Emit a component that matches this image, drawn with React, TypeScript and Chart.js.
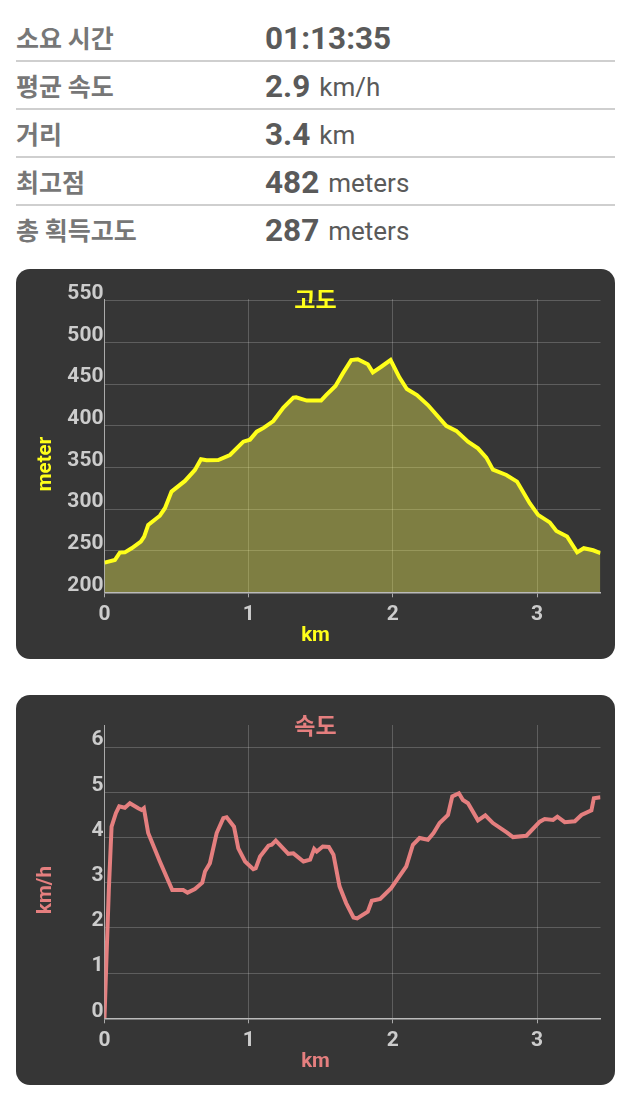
import { useEffect, useRef } from "react"
import { Chart, registerables } from "chart.js"

Chart.register(...registerables)

const altitudeKm = [
  0, 0.072, 0.106, 0.141, 0.188, 0.252, 0.275, 0.303, 0.384, 0.419, 0.465, 0.558, 0.627, 0.669, 0.708, 0.789, 0.87,
  0.963, 1.009, 1.056, 1.106, 1.171, 1.241, 1.31, 1.329, 1.403, 1.502, 1.537, 1.602, 1.653, 1.711, 1.757, 1.826,
  1.861, 1.919, 1.984, 2.046, 2.097, 2.167, 2.243, 2.37, 2.44, 2.521, 2.59, 2.648, 2.694, 2.787, 2.861, 2.949, 3.007,
  3.088, 3.134, 3.208, 3.278, 3.324, 3.389, 3.44,
]
const altitudeMeters = [
  235.6, 238.8, 247.7, 248, 252.9, 260.9, 266.9, 280.9, 292, 301, 321, 333.8, 347, 359.8, 358.6, 359, 365, 381, 383.4,
  393, 397.8, 405.8, 421.9, 433.9, 434.3, 430.3, 430.3, 437, 448, 463, 479, 480, 474, 464.3, 471, 479, 458, 444.3, 437,
  425, 400, 394, 381, 373, 361.8, 347.4, 341, 333, 307, 293, 284, 273.7, 267, 248, 253, 250.5, 247,
]
const altitudeTicks = [200, 250, 300, 350, 400, 450, 500, 550]

const speedKm = [
  0, 0.014, 0.03, 0.049, 0.079, 0.102, 0.141, 0.176, 0.234, 0.257, 0.273, 0.303, 0.384, 0.47, 0.546, 0.576, 0.627,
  0.678, 0.697, 0.731, 0.778, 0.824, 0.847, 0.898, 0.928, 0.975, 1.032, 1.049, 1.079, 1.137, 1.16, 1.188, 1.275, 1.31,
  1.38, 1.426, 1.454, 1.472, 1.514, 1.556, 1.588, 1.63, 1.676, 1.727, 1.752, 1.826, 1.854, 1.912, 1.988, 2.093, 2.139,
  2.185, 2.243, 2.282, 2.324, 2.382, 2.412, 2.458, 2.486, 2.521, 2.59, 2.641, 2.694, 2.792, 2.833, 2.926, 3.019, 3.053,
  3.111, 3.141, 3.192, 3.262, 3.308, 3.377, 3.394, 3.44,
]
const speedKmh = [
  0, 1.37, 2.84, 4.24, 4.54, 4.69, 4.66, 4.76, 4.65, 4.61, 4.65, 4.1, 3.47, 2.84, 2.84, 2.78, 2.86, 3, 3.25, 3.43, 4.1,
  4.43, 4.45, 4.24, 3.76, 3.47, 3.3, 3.32, 3.58, 3.82, 3.84, 3.93, 3.64, 3.65, 3.47, 3.51, 3.75, 3.69, 3.8, 3.79, 3.62,
  2.92, 2.55, 2.23, 2.21, 2.36, 2.6, 2.64, 2.88, 3.36, 3.84, 3.99, 3.95, 4.1, 4.32, 4.5, 4.91, 4.98, 4.83, 4.76, 4.38,
  4.49, 4.32, 4.11, 4.01, 4.04, 4.35, 4.41, 4.39, 4.46, 4.34, 4.36, 4.5, 4.6, 4.87, 4.89,
]
const speedTicks = [0, 1, 2, 3, 4, 5, 6]
const kmTicks = [0, 1, 2, 3]

const summaryRows = [
  { label: "소요 시간", value: "01:13:35", unit: "" },
  { label: "평균 속도", value: "2.9", unit: "km/h" },
  { label: "거리", value: "3.4", unit: "km" },
  { label: "최고점", value: "482", unit: "meters" },
  { label: "총 획득고도", value: "287", unit: "meters" },
]

const LATIN = "Roboto, 'Noto Sans CJK KR', sans-serif"
const KOREAN = "'Noto Sans CJK KR', Roboto, sans-serif"

// axis names sit in the middle of the card, not the middle of the plot
const cardAxisNames = {
  id: "cardAxisNames",
  afterDraw(chart: any) {
    const { ctx, width, height } = chart
    const o = chart.options.plugins.cardAxisNames
    ctx.save()
    ctx.fillStyle = o.color
    ctx.font = `700 20.5px ${LATIN}`
    ctx.textAlign = "center"
    ctx.textBaseline = "middle"
    ctx.fillText(o.x, width / 2, 367)
    ctx.translate(29.5, height / 2)
    ctx.rotate(-Math.PI / 2)
    ctx.fillText(o.y, 0, 0)
    ctx.restore()
  },
}

type ProfileProps = {
  top: number
  title: string
  yName: string
  color: string
  fillColor: string
  xs: number[]
  ys: number[]
  yMin: number
  yMax: number
  yTicks: number[]
}

function ProfileChart(props: ProfileProps) {
  const canvasRef = useRef<HTMLCanvasElement>(null)

  useEffect(() => {
    if (!canvasRef.current) return
    const gridColor = "rgba(255,255,255,0.2)"
    const tickFont = { family: LATIN, size: 21, weight: 700 }
    const chart = new Chart(canvasRef.current, {
      type: "line",
      data: {
        datasets: [
          {
            data: props.xs.map((x, i) => ({ x, y: props.ys[i] })),
            borderColor: props.color,
            borderWidth: 4,
            backgroundColor: props.fillColor,
            fill: props.fillColor !== "transparent" ? "start" : false,
            pointRadius: 0,
            tension: 0,
          },
        ],
      },
      options: {
        animation: false,
        responsive: false,
        layout: { padding: { left: 14.5, right: 14.5 } },
        plugins: {
          legend: { display: false },
          tooltip: { enabled: false },
          title: {
            display: true,
            text: props.title,
            color: props.color,
            font: { family: KOREAN, size: 23, weight: 700, lineHeight: 1 },
            padding: { top: 19, bottom: -12 },
          },
          cardAxisNames: { x: "km", y: props.yName, color: props.color },
        } as any,
        scales: {
          x: {
            type: "linear",
            min: 0,
            max: 3.44,
            grid: { color: gridColor, tickLength: 5, tickColor: "#aaa" },
            border: { color: "#bbb", width: 1.5 },
            ticks: { color: "#ccc", font: tickFont, padding: 5, maxRotation: 0 },
            afterBuildTicks(scale: any) {
              scale.ticks = kmTicks.map((value) => ({ value }))
            },
            afterFit(scale: any) {
              scale.height = 66.7
            },
          },
          y: {
            min: props.yMin,
            max: props.yMax,
            grid: { color: gridColor, drawTicks: false },
            border: { color: "#aaa", width: 1 },
            ticks: { color: "#ccc", font: tickFont, padding: 1, labelOffset: -7 },
            afterBuildTicks(scale: any) {
              scale.ticks = props.yTicks.map((value) => ({ value }))
            },
            afterFit(scale: any) {
              scale.width = 74
            },
          },
        },
      },
      plugins: [cardAxisNames],
    } as any)
    return () => chart.destroy()
  }, [])

  return (
    <div
      style={{
        position: "absolute",
        left: 16,
        top: props.top,
        width: 599,
        height: 390,
        borderRadius: 14,
        overflow: "hidden",
        background: "#363636",
      }}
    >
      <canvas ref={canvasRef} width={599} height={390} style={{ display: "block" }} />
    </div>
  )
}

export default function App() {
  return (
    <div style={{ position: "absolute", left: 0, top: 0, width: 628, height: 1120, background: "#fff" }}>
      {summaryRows.map((row, i) => (
        <div
          key={row.label}
          style={{
            position: "absolute",
            left: 16,
            top: 14 + i * 48,
            width: 599,
            height: 46,
            borderBottom: i < summaryRows.length - 1 ? "2px solid #cfcfcf" : "none",
            color: "#5a5a5a",
          }}
        >
          <span style={{ position: "absolute", left: 0, top: 7, font: `700 25px/32px ${KOREAN}`, color: "#777" }}>{row.label}</span>
          <span style={{ position: "absolute", left: 249, top: 6, font: `700 31.5px/38px ${LATIN}`, whiteSpace: "nowrap" }}>
            {row.value}
            {row.unit && (
              <span style={{ font: `400 26px/38px ${LATIN}`, marginLeft: 9, position: "relative", top: -1 }}>{row.unit}</span>
            )}
          </span>
        </div>
      ))}
      <ProfileChart
        top={269}
        title="고도"
        yName="meter"
        color="#ffff1a"
        fillColor="rgba(255,255,90,0.36)"
        xs={altitudeKm}
        ys={altitudeMeters}
        yMin={200}
        yMax={552.4}
        yTicks={altitudeTicks}
      />
      <ProfileChart
        top={695}
        title="속도"
        yName="km/h"
        color="#e57f7f"
        fillColor="transparent"
        xs={speedKm}
        ys={speedKmh}
        yMin={0}
        yMax={6.49}
        yTicks={speedTicks}
      />
    </div>
  )
}
